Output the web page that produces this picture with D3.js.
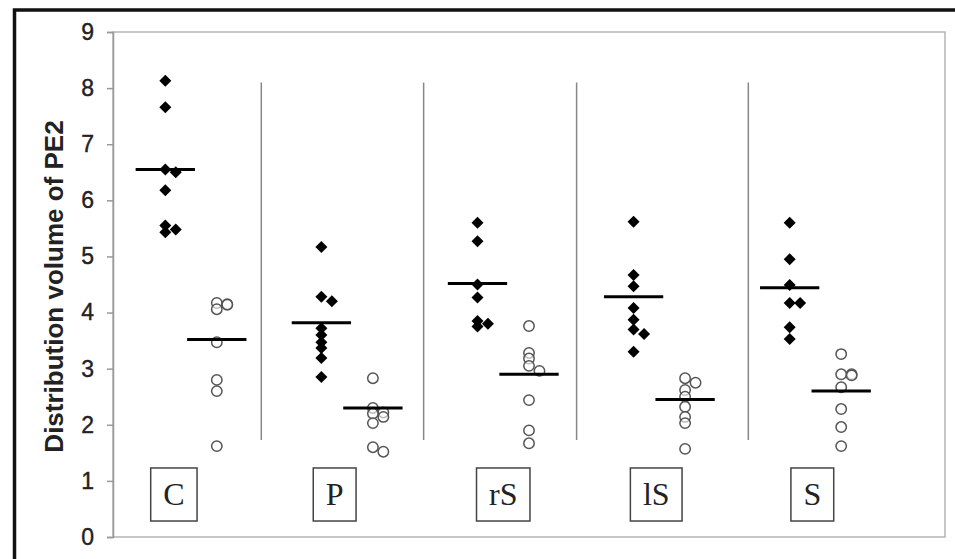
<!DOCTYPE html>
<html>
<head>
<meta charset="utf-8">
<script src="https://cdnjs.cloudflare.com/ajax/libs/d3/7.8.5/d3.min.js"></script>
<style>
  html, body { margin: 0; background: #fff; overflow: hidden; }
  svg { display: block; }
</style>
</head>
<body>
<svg id="chart" width="955" height="559"></svg>
<script>
// groups along the x axis
var groups = ["C", "P", "rS", "lS", "S"];

// filled diamonds, one list per group
var filledVals = [
  [8.13, 7.66, 6.55, 6.5, 6.18, 5.55, 5.48, 5.43],
  [5.17, 4.28, 4.2, 3.72, 3.6, 3.47, 3.37, 3.19, 2.85],
  [5.6, 5.27, 4.5, 4.27, 3.85, 3.8, 3.75],
  [5.62, 4.67, 4.47, 4.08, 3.87, 3.7, 3.62, 3.3],
  [5.6, 4.95, 4.49, 4.17, 4.17, 3.74, 3.53]
];

// open circles, one list per group
var openVals = [
  [4.17, 4.15, 4.14, 4.06, 3.47, 2.8, 2.6, 1.62],
  [2.83, 2.3, 2.22, 2.2, 2.14, 2.03, 1.6, 1.52],
  [3.76, 3.28, 3.18, 3.05, 2.96, 2.44, 1.9, 1.67],
  [2.83, 2.75, 2.62, 2.5, 2.32, 2.14, 2.03, 1.57],
  [3.26, 2.9, 2.9, 2.88, 2.67, 2.28, 1.96, 1.62]
];

// horizontal bars (group means)
var filledMeans = [6.55, 3.82, 4.52, 4.28, 4.44];
var openMeans = [3.52, 2.3, 2.9, 2.45, 2.6];

var yTicks = [0, 1, 2, 3, 4, 5, 6, 7, 8, 9];

// vertical dividers between groups and label positions, in group units
var dividers = [0.45, 1.49, 2.47, 3.57];
var labelAt = [-0.11, 0.92, 2.0, 2.98, 3.98];

var svg = d3.select("#chart");

var x = d3.scaleLinear().domain([-0.5, 4.83]).range([113, 945]);
var y = d3.scaleLinear().domain([0, 9]).range([537, 32]);

// outer black frame (image is cropped on the right / bottom)
svg.append("path")
  .attr("d", "M14.5,559V10H955")
  .attr("fill", "none")
  .attr("stroke", "#111")
  .attr("stroke-width", 3.5);

// plot box
svg.append("rect")
  .attr("x", x(-0.5)).attr("y", y(9))
  .attr("width", x(4.83) - x(-0.5))
  .attr("height", y(0) - y(9))
  .attr("fill", "none")
  .attr("stroke", "#b5b5b5")
  .attr("stroke-width", 1.5);

// y axis
var yAxis = d3.axisLeft(y).tickValues(yTicks).tickSize(6).tickPadding(13);
var gy = svg.append("g")
  .attr("transform", "translate(" + x(-0.5) + ",0)")
  .call(yAxis);
gy.select(".domain").attr("stroke", "#999").attr("stroke-width", 1.5);
gy.selectAll(".tick line").attr("stroke", "#999").attr("stroke-width", 1.5);
gy.selectAll(".tick text")
  .attr("fill", "#222")
  .attr("stroke", "#222")
  .attr("stroke-width", 0.4)
  .style("font-family", "'Liberation Sans', Arial, sans-serif")
  .style("font-size", "23px");

svg.append("text")
  .attr("transform", "translate(54," + ((y(9) + y(0)) / 2 + 2) + ") rotate(-90)")
  .attr("text-anchor", "middle")
  .attr("dy", "0.35em")
  .attr("fill", "#222")
  .style("font-family", "'Liberation Sans', Arial, sans-serif")
  .style("font-weight", "bold")
  .style("font-size", "26px")
  .text("Distribution volume of PE2");

// dividers
svg.selectAll(".divider")
  .data(dividers)
  .enter().append("line")
  .attr("class", "divider")
  .attr("x1", function(d) { return x(d); })
  .attr("x2", function(d) { return x(d); })
  .attr("y1", y(8.1))
  .attr("y2", y(1.73))
  .attr("stroke", "#888")
  .attr("stroke-width", 1.5);

// side by side placement for points that nearly overlap
var seriesShift = 0.165, slotShift = 0.067;
function dodge(vals, gi, side) {
  var last = null, out = [];
  vals.slice().sort(d3.descending).forEach(function(v) {
    var slot = 0;
    if (last !== null && Math.abs(y(v) - y(last)) < 5.5) slot = 1;
    else last = v;
    out.push({ g: gi, v: v, cx: x(gi + side * seriesShift + slot * slotShift) });
  });
  return out;
}

var filledPts = [], openPts = [];
groups.forEach(function(g, i) {
  filledPts = filledPts.concat(dodge(filledVals[i], i, -1));
  openPts = openPts.concat(dodge(openVals[i], i, 1));
});

// open circles
svg.selectAll(".open")
  .data(openPts)
  .enter().append("circle")
  .attr("class", "open")
  .attr("cx", function(d) { return d.cx; })
  .attr("cy", function(d) { return y(d.v); })
  .attr("r", 5.2)
  .attr("fill", "#fff")
  .attr("fill-opacity", 0.6)
  .attr("stroke", "#555")
  .attr("stroke-width", 1.5);

// filled diamonds
var diamond = d3.symbol().type(d3.symbolSquare).size(72);
svg.selectAll(".filled")
  .data(filledPts)
  .enter().append("path")
  .attr("class", "filled")
  .attr("d", diamond)
  .attr("transform", function(d) {
    return "translate(" + d.cx + "," + y(d.v) + ") rotate(45)";
  })
  .attr("fill", "#000");

// mean bars
function meanBars(means, side) {
  svg.selectAll(".mean" + side)
    .data(means)
    .enter().append("line")
    .attr("x1", function(d, i) { return x(i + side * seriesShift - 0.19); })
    .attr("x2", function(d, i) { return x(i + side * seriesShift + 0.19); })
    .attr("y1", function(d) { return y(d); })
    .attr("y2", function(d) { return y(d); })
    .attr("stroke", "#000")
    .attr("stroke-width", 3);
}
meanBars(filledMeans, -1);
meanBars(openMeans, 1);

// boxed group labels
var lab = svg.selectAll(".lab")
  .data(groups)
  .enter().append("g")
  .attr("class", "lab")
  .attr("transform", function(d, i) { return "translate(" + x(labelAt[i]) + ",0)"; });

lab.append("text")
  .attr("text-anchor", "middle")
  .attr("y", (y(1.23) + y(0.285)) / 2 + 11)
  .attr("fill", "#222")
  .style("font-family", "'Liberation Serif', 'Times New Roman', serif")
  .style("font-size", "32px")
  .text(function(d) { return d; });

lab.insert("rect", "text")
  .each(function() {
    var w = this.parentNode.querySelector("text").getComputedTextLength() + 25;
    d3.select(this)
      .attr("x", -w / 2)
      .attr("width", w);
  })
  .attr("y", y(1.23))
  .attr("height", y(0.285) - y(1.23))
  .attr("fill", "#fff")
  .attr("stroke", "#444")
  .attr("stroke-width", 1.5);
</script>
</body>
</html>
